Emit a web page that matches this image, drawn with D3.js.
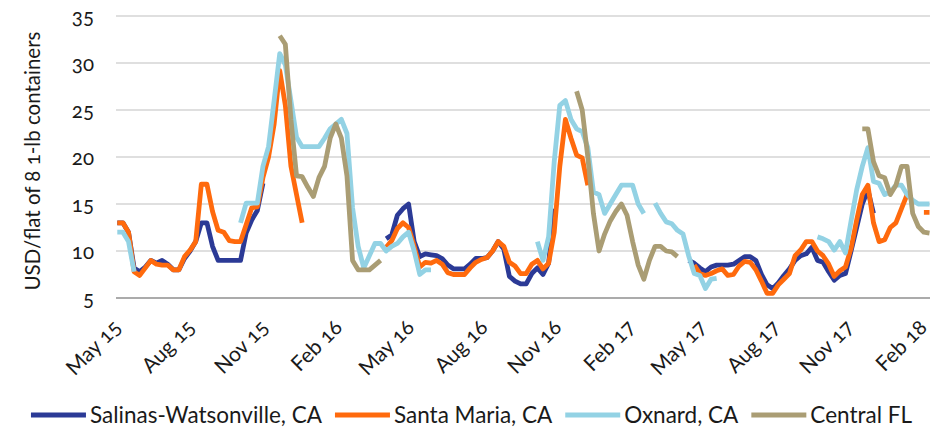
<!DOCTYPE html>
<html>
<head>
<meta charset="utf-8">
<script src="https://cdn.jsdelivr.net/npm/d3@7"></script>
<style>
  body { margin: 0; background: #fff; }
  svg { display: block; }
  text { font-family: Lato, "Noto Sans", sans-serif; fill: #1a1a1a; font-variant-numeric: oldstyle-nums; }
</style>
</head>
<body>
<svg id="chart" width="930" height="428"></svg>
<script>
// Weekly observations, first week ending 2015-04-28
const firstWeek = "2015-04-28";
const seriesNames = ["Salinas-Watsonville, CA", "Santa Maria, CA", "Oxnard, CA", "Central FL"];
const seriesColors = ["#2b3a96", "#ff6a0d", "#93d2e4", "#aa9d74"];
const tickLabels = ["May 15","Aug 15","Nov 15","Feb 16","May 16","Aug 16","Nov 16","Feb 17","May 17","Aug 17","Nov 17","Feb 18"];
const tickDates = ["2015-05-01","2015-08-01","2015-11-01","2016-02-01","2016-05-01","2016-08-01","2016-11-01","2017-02-01","2017-05-01","2017-08-01","2017-11-01","2018-02-01"];
const yTicks = [5, 10, 15, 20, 25, 30, 35];
const yTitle = "USD/flat of 8 1-lb containers";

const N = null;
const salinas = [
  13.0,13.0,12.0,8.2,7.8,8.3,9.0,8.7,9.0,8.6,
  8.0,8.0,9.2,10.0,11.0,13.0,13.0,10.5,9.0,9.0,
  9.0,9.0,9.0,11.9,13.3,14.3,17.2,
  N,N,N,N,N,N,N,N,N,N,N,N,N,N,N,N,N,N,N,N,N,
  11.3,11.7,13.8,14.5,15.0,11.0,9.4,9.7,9.6,9.5,9.2,8.5,
  8.1,8.1,8.1,8.6,9.2,9.2,9.3,10.0,11.0,10.2,
  7.3,6.8,6.5,6.5,7.6,8.2,7.5,8.7,14.5,
  N,N,N,N,N,N,N,N,N,N,N,N,N,N,N,N,N,N,N,N,N,N,N,
  9.0,8.7,8.2,7.8,8.3,8.5,8.5,8.5,8.6,9.0,
  9.4,9.4,9.0,7.5,6.4,6.0,6.6,7.4,8.1,9.0,
  9.5,9.7,10.4,9.0,8.8,7.8,6.9,7.4,7.6,10.0,
  12.5,15.0,16.5,14.0,
  N,N,N,N,N,N,N,N,N,N
];
const santaMaria = [
  13.0,13.0,12.0,7.8,7.4,8.2,9.0,8.6,8.5,8.5,
  8.0,8.0,9.4,10.1,11.0,17.1,17.1,14.2,12.2,12.0,
  11.1,11.0,11.0,12.8,14.6,14.7,17.8,20.0,23.5,29.2,
  25.5,19.0,16.0,13.0,
  N,N,N,N,N,N,N,N,N,N,N,N,N,N,
  10.4,11.1,12.4,13.0,12.5,10.5,8.3,8.8,8.7,9.0,
  8.6,7.7,7.5,7.5,7.5,8.2,8.8,9.1,9.3,10.0,
  11.0,10.5,8.8,8.4,7.6,7.6,8.6,9.0,8.1,8.7,
  12.0,19.0,24.0,22.0,20.2,19.9,17.0,
  N,N,N,N,N,N,N,N,N,N,N,N,N,N,N,N,N,N,
  8.5,7.6,7.4,7.6,7.9,8.1,7.4,7.5,8.4,8.9,
  8.8,8.0,6.8,5.5,5.5,6.4,7.0,7.6,9.5,10.1,
  11.0,11.0,10.0,9.5,8.6,7.3,7.9,8.3,10.3,13.3,
  16.0,17.0,13.0,11.0,11.2,12.5,13.0,14.5,16.0,
  N,N,14.1,14.1
];
const oxnard = [
  12.0,12.0,11.0,7.8,
  N,N,N,N,N,N,N,N,N,N,N,N,N,N,N,N,N,N,
  13.0,15.1,15.1,15.1,19.0,21.1,26.0,31.0,29.8,26.0,
  22.1,21.1,21.1,21.1,21.1,22.0,23.0,23.5,24.0,22.5,
  14.6,10.5,8.2,9.5,10.8,10.8,10.0,10.5,10.8,11.5,
  12.0,10.0,7.5,8.0,8.0,
  N,N,N,N,N,N,N,N,N,N,N,N,N,N,N,N,N,N,
  11.0,9.0,11.5,19.5,25.5,26.0,24.0,23.0,22.7,21.0,
  16.3,16.0,14.0,15.0,16.0,17.0,17.0,17.0,15.0,14.0,
  N,
  15.1,14.0,13.1,12.9,12.2,11.8,9.5,7.6,7.4,6.0,
  7.0,7.1,
  N,N,N,N,N,N,N,N,N,N,N,N,N,N,N,N,N,
  11.5,11.3,11.0,10.1,11.0,9.8,13.2,16.5,19.0,21.0,
  17.4,17.2,16.0,16.3,17.0,17.0,16.0,15.4,15.0,15.0,15.0
];
const centralFL = [
  N,N,N,N,N,N,N,N,N,N,N,N,N,N,N,N,N,N,N,N,N,N,N,N,N,N,N,N,N,
  32.9,32.0,24.0,18.0,17.9,16.8,15.8,17.8,19.0,22.0,
  23.5,22.0,18.0,9.0,8.0,8.0,8.0,8.5,9.0,
  N,N,N,N,N,N,N,N,N,N,N,N,N,N,N,N,N,N,N,N,N,N,N,N,N,N,N,N,N,N,N,N,N,N,
  27.0,25.0,20.0,14.0,10.0,11.8,13.2,14.2,15.0,13.8,
  11.0,8.5,7.0,9.0,10.5,10.5,10.0,9.9,9.4,
  N,N,N,N,N,N,N,N,N,N,N,N,N,N,N,N,N,N,N,N,N,N,N,N,N,N,N,N,N,N,N,N,
  23.0,23.0,19.5,18.0,17.8,16.0,17.0,19.0,19.0,14.0,12.6,12.0,11.9
];

const allSeries = [salinas, santaMaria, oxnard, centralFL];
const parse = d3.timeParse("%Y-%m-%d");
const start = parse(firstWeek);
const dates = salinas.map((_, i) => d3.timeDay.offset(start, 7 * i));

const svg = d3.select("#chart");
const plotLeft = 116, plotRight = 930, plotTop = 16, plotBottom = 298;

const x = d3.scaleTime()
  .domain([dates[0], dates[dates.length - 1]])
  .range([117.3, 929.5]);
const y = d3.scaleLinear().domain([5, 35]).range([plotBottom, plotTop]);

// gridlines
svg.append("g").selectAll("line").data(yTicks).join("line")
  .attr("x1", plotLeft).attr("x2", plotRight)
  .attr("y1", d => y(d)).attr("y2", d => y(d))
  .attr("stroke", d => d === 5 ? "#8f8f8f" : "#d4d4d4")
  .attr("stroke-width", d => d === 5 ? 1.5 : 1.3);

// y axis labels
const yAxis = d3.axisLeft(y).tickValues(yTicks).tickSize(0).tickPadding(0).tickFormat(d3.format("d"));
const yg = svg.append("g").attr("transform", `translate(${plotLeft - 22},0)`).call(yAxis);
yg.select(".domain").remove();
yg.selectAll("text").attr("font-size", 20.5).attr("font-family", "Lato, sans-serif").attr("fill", "#1a1a1a").attr("dy", "0.35em");

// y title
svg.append("text")
  .attr("transform", `translate(40,${(plotTop + plotBottom) / 2 + 4}) rotate(-90)`)
  .attr("text-anchor", "middle")
  .attr("font-size", 20.5)
  .text(yTitle);

// x axis labels
const xAxis = d3.axisBottom(x).tickValues(tickDates.map(parse)).tickSize(0)
  .tickFormat((d, i) => tickLabels[i]);
const xg = svg.append("g").attr("transform", `translate(0,${plotBottom})`).call(xAxis);
xg.select(".domain").remove();
xg.selectAll("text")
  .attr("font-size", 21).attr("font-family", "Lato, sans-serif").attr("fill", "#1a1a1a")
  .attr("text-anchor", "end")
  .attr("x", -20).attr("y", 16).attr("dy", "0.35em")
  .attr("transform", "rotate(-45)");

// lines
const line = d3.line()
  .defined(d => d.v !== null)
  .x(d => x(d.date))
  .y(d => y(d.v));

allSeries.forEach((s, k) => {
  svg.append("path")
    .datum(s.map((v, i) => ({ date: dates[i], v })))
    .attr("fill", "none")
    .attr("stroke", seriesColors[k])
    .attr("stroke-width", 4.8)
    .attr("stroke-linejoin", "round")
    .attr("stroke-linecap", "butt")
    .attr("d", line);
});

// legend
const lg = svg.append("g");
let lx = 0;
seriesNames.forEach((name, k) => {
  const g = lg.append("g").attr("transform", `translate(${lx},0)`);
  g.append("line").attr("x1", 0).attr("x2", 55).attr("y1", 0).attr("y2", 0)
    .attr("stroke", seriesColors[k]).attr("stroke-width", 5);
  const t = g.append("text").attr("x", 59).attr("dy", "0.35em").attr("font-size", 22.5).text(name);
  lx += 59 + t.node().getComputedTextLength() + 13;
});
const totalW = lx - 13;
lg.attr("transform", `translate(${(25 + 918 - totalW) / 2},415)`);
</script>
</body>
</html>
